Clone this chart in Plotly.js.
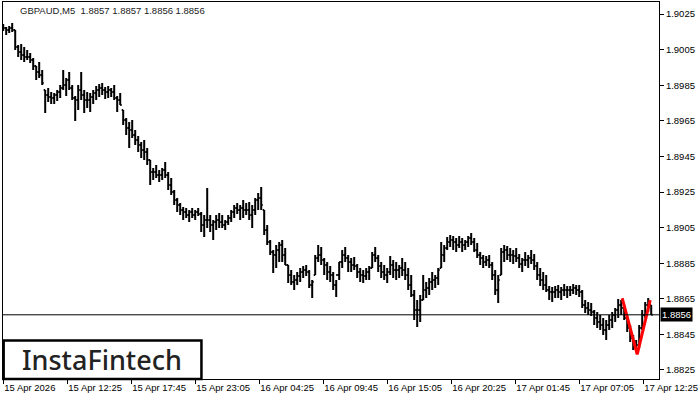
<!DOCTYPE html>
<html>
<head>
<meta charset="utf-8">
<script src="https://cdn.plot.ly/plotly-3.0.1.min.js"></script>
<style>html,body{margin:0;padding:0;background:#fff;}#chart{width:700px;height:400px;}</style>
</head>
<body>
<div id="chart"></div>
<script>
// GBPAUD bars (one bar per 15 minutes of chart width)
const startTime = "2026-04-15 07:05";
const barMinutes = 15;
const high = [
1.90194,1.90177,1.90183,1.90199,1.90160,1.90076,1.90081,1.90065,1.90048,1.90031,
1.90003,1.89958,1.89980,1.89935,1.89823,1.89834,1.89812,1.89806,1.89823,1.89851,
1.89935,1.89890,1.89924,1.89851,1.89789,1.89851,1.89924,1.89823,1.89812,1.89806,
1.89823,1.89846,1.89857,1.89862,1.89840,1.89846,1.89834,1.89851,1.89789,1.89806,
1.89711,1.89666,1.89643,1.89654,1.89598,1.89565,1.89531,1.89542,1.89497,1.89430,
1.89385,1.89402,1.89374,1.89385,1.89419,1.89362,1.89329,1.89261,1.89216,1.89188,
1.89166,1.89160,1.89149,1.89160,1.89149,1.89160,1.89138,1.89121,1.89272,1.89121,
1.89093,1.89121,1.89132,1.89121,1.89093,1.89121,1.89149,1.89177,1.89188,1.89177,
1.89205,1.89188,1.89194,1.89177,1.89216,1.89244,1.89278,1.89149,1.89065,1.88980,
1.88924,1.88952,1.88969,1.88980,1.88935,1.88840,1.88812,1.88784,1.88801,1.88823,
1.88834,1.88840,1.88812,1.88756,1.88896,1.88952,1.88941,1.88879,1.88857,1.88834,
1.88801,1.88756,1.88857,1.88924,1.88941,1.88896,1.88879,1.88885,1.88845,1.88823,
1.88812,1.88823,1.88834,1.88913,1.88941,1.88896,1.88857,1.88840,1.88823,1.88890,
1.88868,1.88857,1.88840,1.88879,1.88857,1.88823,1.88784,1.88699,1.88643,1.88671,
1.88784,1.88744,1.88767,1.88801,1.88784,1.88823,1.88969,1.88952,1.88997,1.89008,
1.89003,1.88992,1.89003,1.88992,1.88980,1.89003,1.89020,1.88992,1.88963,1.88913,
1.88896,1.88890,1.88896,1.88857,1.88812,1.88784,1.88935,1.88952,1.88947,1.88935,
1.88924,1.88935,1.88902,1.88879,1.88913,1.88896,1.88924,1.88902,1.88857,1.88823,
1.88801,1.88784,1.88722,1.88716,1.88722,1.88728,1.88716,1.88733,1.88722,1.88722,
1.88733,1.88728,1.88728,1.88699,1.88643,1.88632,1.88626,1.88587,1.88576,1.88559,
1.88542,1.88531,1.88559,1.88576,1.88598,1.88649,1.88643,1.88615,1.88559,1.88503,
1.88447,1.88419,1.88503,1.88587,1.88632,1.88655,1.88615
];
const low = [
1.90154,1.90132,1.90143,1.90149,1.90048,1.90008,1.89992,1.89980,1.89992,1.89975,
1.89935,1.89879,1.89890,1.89851,1.89694,1.89756,1.89744,1.89744,1.89761,1.89778,
1.89823,1.89789,1.89823,1.89767,1.89649,1.89711,1.89767,1.89694,1.89722,1.89699,
1.89744,1.89767,1.89784,1.89795,1.89772,1.89778,1.89784,1.89767,1.89699,1.89739,
1.89626,1.89570,1.89497,1.89553,1.89514,1.89475,1.89441,1.89430,1.89402,1.89289,
1.89317,1.89329,1.89306,1.89317,1.89329,1.89261,1.89233,1.89177,1.89138,1.89121,
1.89093,1.89104,1.89081,1.89104,1.89093,1.89115,1.89025,1.88997,1.89048,1.89025,
1.88980,1.89036,1.89048,1.89048,1.89036,1.89065,1.89081,1.89104,1.89126,1.89093,
1.89104,1.89121,1.89093,1.89048,1.89121,1.89149,1.89149,1.89008,1.88952,1.88896,
1.88795,1.88823,1.88857,1.88857,1.88840,1.88739,1.88728,1.88699,1.88728,1.88744,
1.88767,1.88778,1.88711,1.88655,1.88784,1.88857,1.88840,1.88784,1.88756,1.88744,
1.88699,1.88660,1.88756,1.88823,1.88857,1.88801,1.88801,1.88812,1.88767,1.88744,
1.88739,1.88756,1.88756,1.88823,1.88857,1.88801,1.88767,1.88756,1.88739,1.88784,
1.88767,1.88756,1.88767,1.88778,1.88756,1.88699,1.88660,1.88531,1.88492,1.88520,
1.88643,1.88655,1.88671,1.88699,1.88711,1.88728,1.88823,1.88857,1.88924,1.88941,
1.88924,1.88913,1.88935,1.88913,1.88924,1.88941,1.88952,1.88913,1.88879,1.88840,
1.88823,1.88834,1.88823,1.88756,1.88671,1.88626,1.88784,1.88857,1.88868,1.88857,
1.88845,1.88857,1.88823,1.88801,1.88834,1.88823,1.88845,1.88812,1.88756,1.88722,
1.88699,1.88688,1.88643,1.88632,1.88655,1.88655,1.88643,1.88666,1.88655,1.88666,
1.88677,1.88671,1.88660,1.88598,1.88570,1.88559,1.88553,1.88503,1.88486,1.88475,
1.88447,1.88419,1.88475,1.88486,1.88520,1.88542,1.88559,1.88531,1.88463,1.88407,
1.88362,1.88349,1.88374,1.88475,1.88542,1.88576,1.88559
];
const close = [
1.90171,1.90160,1.90171,1.90160,1.90065,1.90036,1.90020,1.90008,1.90008,1.89992,
1.89958,1.89924,1.89907,1.89862,1.89795,1.89784,1.89778,1.89795,1.89812,1.89834,
1.89851,1.89879,1.89834,1.89778,1.89767,1.89823,1.89795,1.89767,1.89767,1.89784,
1.89806,1.89823,1.89834,1.89823,1.89812,1.89823,1.89812,1.89778,1.89767,1.89739,
1.89654,1.89610,1.89598,1.89570,1.89542,1.89514,1.89486,1.89475,1.89430,1.89362,
1.89362,1.89345,1.89345,1.89374,1.89345,1.89289,1.89250,1.89205,1.89177,1.89149,
1.89138,1.89121,1.89138,1.89121,1.89138,1.89126,1.89065,1.89093,1.89093,1.89065,
1.89081,1.89093,1.89081,1.89065,1.89081,1.89104,1.89138,1.89160,1.89149,1.89160,
1.89149,1.89149,1.89121,1.89149,1.89205,1.89216,1.89177,1.89036,1.88969,1.88913,
1.88896,1.88924,1.88952,1.88896,1.88840,1.88784,1.88744,1.88756,1.88778,1.88801,
1.88812,1.88801,1.88728,1.88744,1.88879,1.88896,1.88868,1.88840,1.88801,1.88784,
1.88728,1.88784,1.88857,1.88896,1.88879,1.88857,1.88840,1.88834,1.88801,1.88784,
1.88778,1.88801,1.88823,1.88896,1.88879,1.88834,1.88801,1.88784,1.88801,1.88840,
1.88812,1.88812,1.88823,1.88812,1.88784,1.88728,1.88671,1.88587,1.88587,1.88643,
1.88699,1.88711,1.88744,1.88756,1.88767,1.88812,1.88896,1.88935,1.88969,1.88980,
1.88969,1.88952,1.88969,1.88952,1.88969,1.88992,1.88969,1.88924,1.88896,1.88879,
1.88857,1.88868,1.88840,1.88784,1.88699,1.88756,1.88913,1.88924,1.88896,1.88896,
1.88890,1.88879,1.88845,1.88868,1.88868,1.88879,1.88868,1.88834,1.88784,1.88756,
1.88728,1.88699,1.88688,1.88688,1.88699,1.88688,1.88699,1.88699,1.88699,1.88699,
1.88711,1.88699,1.88688,1.88615,1.88598,1.88587,1.88576,1.88542,1.88520,1.88503,
1.88475,1.88503,1.88531,1.88559,1.88587,1.88615,1.88598,1.88542,1.88486,1.88430,
1.88390,1.88390,1.88486,1.88559,1.88615,1.88615,1.88560
];
// Pattern (red V) points
const patternTimes = ["2026-04-17 10:40", "2026-04-17 11:55", "2026-04-17 13:00"];
const patternPrices = [1.88653, 1.88338, 1.88643];
// Axis ticks
const xTickTimes = ["2026-04-15 07:05","2026-04-15 12:25","2026-04-15 17:45","2026-04-15 23:05",
  "2026-04-16 04:25","2026-04-16 09:45","2026-04-16 15:05","2026-04-16 20:25",
  "2026-04-17 01:45","2026-04-17 07:05","2026-04-17 12:25"];
const xTickLabels = ["15 Apr 2026","15 Apr 12:25","15 Apr 17:45","15 Apr 23:05",
  "16 Apr 04:25","16 Apr 09:45","16 Apr 15:05","16 Apr 20:25",
  "17 Apr 01:45","17 Apr 07:05","17 Apr 12:25"];
const yTicks = [1.8825,1.8845,1.8865,1.8885,1.8905,1.8925,1.8945,1.8965,1.8985,1.9005,1.9025];
const currentPrice = 1.8856;
const headerText = "GBPAUD,M5  1.8857 1.8857 1.8856 1.8856";
const logoText = "InstaFintech";

function pad(n){return (n<10?'0':'')+n;}
function fmt(ms){const d=new Date(ms);return d.getUTCFullYear()+'-'+pad(d.getUTCMonth()+1)+'-'+pad(d.getUTCDate())+' '+pad(d.getUTCHours())+':'+pad(d.getUTCMinutes());}
const t0 = Date.UTC(2026,3,15,7,5);
const times = close.map((_, i) => fmt(t0 + i*barMinutes*60000));
const open = close.map((c, i) => {
  const p = i === 0 ? close[0] : close[i-1];
  return Math.min(high[i], Math.max(low[i], p));
});

const font = "Liberation Sans, Arial, sans-serif";
const traces = [
  {type:'ohlc', x:times, open:open, high:high, low:low, close:close,
   increasing:{line:{color:'#000', width:2}}, decreasing:{line:{color:'#000', width:2}},
   tickwidth:0.5, hoverinfo:'skip', showlegend:false},
  {type:'scatter', mode:'lines', x:patternTimes, y:patternPrices,
   line:{color:'#ff0000', width:3}, hoverinfo:'skip', showlegend:false}
];
const layout = {
  width:700, height:400,
  margin:{l:3, r:41, t:2, b:21, pad:0},
  paper_bgcolor:'#fff', plot_bgcolor:'#fff',
  showlegend:false,
  font:{family:font, size:9.5, color:'#000'},
  xaxis:{type:'date', range:["2026-04-15 07:04","2026-04-17 13:44"],
    rangeslider:{visible:false}, showgrid:false, zeroline:false,
    showline:true, mirror:true, linecolor:'#000', linewidth:1,
    ticks:'outside', ticklen:4, tickcolor:'#000',
    tickmode:'array', tickvals:xTickTimes, ticktext:xTickLabels,
    ticklabelposition:'outside right',
    tickfont:{family:font, size:9.5, color:'#000'}},
  yaxis:{side:'right', range:[1.881994, 1.903174], showgrid:false, zeroline:false,
    showline:true, mirror:true, linecolor:'#000', linewidth:1,
    ticks:'outside', ticklen:4, tickcolor:'#000',
    tickmode:'array', tickvals:yTicks, ticktext:yTicks.map(v=>v.toFixed(4)),
    tickfont:{family:font, size:9.5, color:'#000'}},
  shapes:[
    {type:'line', xref:'paper', x0:0, x1:1, yref:'y', y0:currentPrice, y1:currentPrice,
     line:{color:'#000', width:1}},
    {type:'rect', xref:'paper', yref:'paper', x0:0.001, x1:0.3025, y0:0.0, y1:0.1021,
     fillcolor:'#fff', line:{color:'#000', width:2.5}}
  ],
  annotations:[
    {xref:'paper', yref:'paper', x:0.0229, y:0.977, xanchor:'left', yanchor:'middle',
     text:headerText, showarrow:false, font:{family:font, size:9.5, color:'#222'}},
    {xref:'paper', yref:'y', x:1, y:currentPrice, xanchor:'left', yanchor:'middle', xshift:1,
     text:currentPrice.toFixed(4), showarrow:false, bgcolor:'#000', borderpad:1,
     font:{family:font, size:9.5, color:'#fff'}},
    {xref:'paper', yref:'paper', x:0.151, y:0.0517, xanchor:'center', yanchor:'middle',
     text:logoText, showarrow:false, font:{family:'Noto Sans, sans-serif', size:27, weight:500, color:'#222'}}
  ]
};
Plotly.newPlot('chart', traces, layout, {displayModeBar:false, staticPlot:true});
</script>
</body>
</html>
